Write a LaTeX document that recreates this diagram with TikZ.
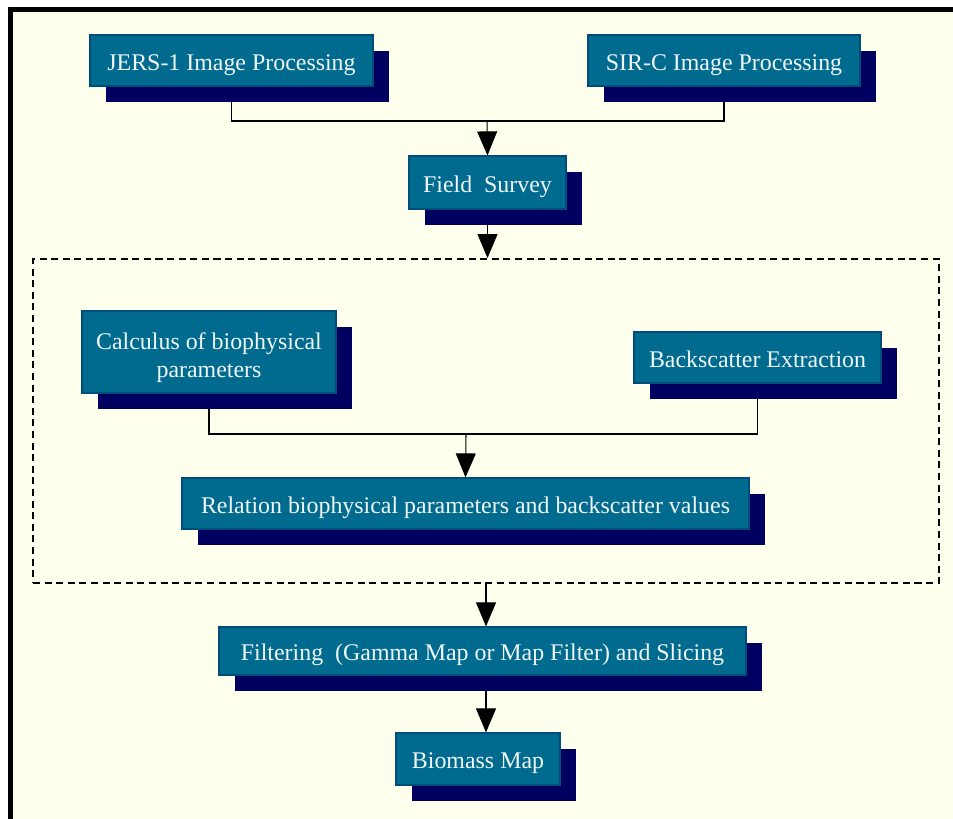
\documentclass[tikz,border=0pt]{standalone}
\usepackage{fontspec}
\setmainfont{Liberation Serif}
\usetikzlibrary{arrows.meta,shadows,backgrounds}

\definecolor{paper}{RGB}{255,255,238}
\definecolor{boxteal}{RGB}{0,107,143}
\definecolor{boxedge}{RGB}{0,78,120}
\definecolor{boxshade}{RGB}{0,0,96}
\definecolor{boxtext}{RGB}{240,246,246}

\begin{document}
\begin{tikzpicture}[x=0.2cm,y=0.2cm,
  stepbox/.style={draw=boxedge, line width=0.7pt, fill=boxteal, text=boxtext,
    font=\fontsize{13.6}{15.4}\selectfont, align=center, inner sep=0pt,
    text height=14pt, text depth=3pt,
    drop shadow={shadow xshift=0.32cm, shadow yshift=-0.32cm, fill=boxshade, opacity=1, draw=none}},
  groupbox/.style={draw, line width=1.1pt, dash pattern=on 4pt off 2.6pt, inner sep=0pt},
  link/.style={line width=0.6pt},
  flow/.style={link, -{Triangle[width=0.4cm,length=0.48cm]}}]
\useasboundingbox (0,0) rectangle (95.3,-81.8);

% processing boxes
\node[stepbox, minimum width=5.66cm, minimum height=1.02cm] (jers) at (23.15,-6.05) {JERS-1 Image Processing};
\node[stepbox, minimum width=5.44cm, minimum height=1.02cm] (sirc) at (72.4,-6.05) {SIR-C Image Processing};
\node[stepbox, minimum width=3.14cm, minimum height=1.06cm] (field) at (48.75,-18.25) {Field\ \ Survey};

% dashed group
\node[groupbox, minimum width=18.12cm, minimum height=6.48cm] (group) at (48.6,-42.1) {};
\node[stepbox, minimum width=5.08cm, minimum height=1.64cm, text height=31.5pt] (calc) at (20.9,-35.2) {Calculus of biophysical\\parameters};
\node[stepbox, minimum width=4.94cm, minimum height=1.02cm] (back) at (75.75,-35.75) {Backscatter Extraction};
\node[stepbox, minimum width=11.34cm, minimum height=1.02cm] (rel) at (46.55,-50.35) {Relation biophysical parameters and backscatter values};

% output boxes
\node[stepbox, minimum width=10.54cm, minimum height=0.96cm] (filt) at (48.25,-65.1) {Filtering\ \ (Gamma Map or Map Filter) and Slicing};
\node[stepbox, minimum width=3.28cm, minimum height=1.04cm] (bio) at (47.8,-75.9) {Biomass Map};

\coordinate (topjoin) at (48.7,-12.1);
\coordinate (midjoin) at (46.6,-43.4);

\begin{pgfonlayer}{background}
\fill[paper] (1.05,-0.95) rectangle (100,-90);
\draw[line width=2.9pt] (1.05,-90) -- (1.05,-0.95) -- (100,-0.95);
\draw[link] (jers.south) |- (topjoin) -| (sirc.south);
\draw[flow] (topjoin) -- (field.north);
\draw[flow] (field.south) -- (field.south |- group.north);
\draw[link] (calc.south) |- (midjoin) -| (back.south);
\draw[flow] (midjoin) -- (rel.north);
\draw[flow] (group.south) -- (group.south |- filt.north);
\draw[flow] (group.south |- filt.south) -- (group.south |- bio.north);
\end{pgfonlayer}
\end{tikzpicture}
\end{document}
